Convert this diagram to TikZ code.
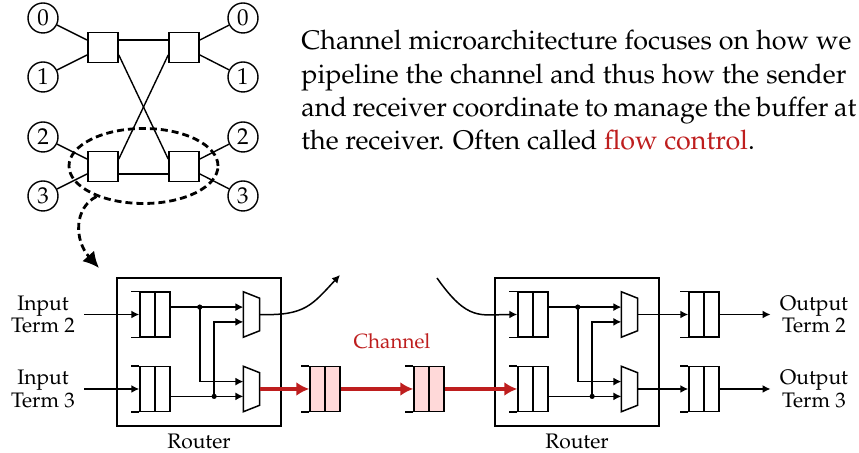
\documentclass[tikz,border=0pt]{standalone}
\usepackage[T1]{fontenc}
\usepackage{mathpazo}
\usepackage{tikz}
\usetikzlibrary{arrows.meta,positioning,shapes.geometric}
\definecolor{chanred}{RGB}{190,30,30}
\definecolor{chanpink}{RGB}{255,217,217}
\tikzset{
	wire/.style={line width=0.75pt,-{Latex[length=4pt,width=4pt]}},
	link/.style={line width=0.7pt},
	redwire/.style={line width=1.6pt,chanred,-{Latex[length=6.5pt,width=7pt]}},
	term/.style={circle,draw,line width=0.7pt,inner sep=0pt,minimum size=15pt,font=\fontsize{11.5}{11.5}\selectfont},
	switchbox/.style={rectangle,draw,line width=0.75pt,inner sep=0pt,minimum size=15pt},
	fifo/.style={rectangle,draw,line width=0.75pt,inner sep=0pt,minimum width=15pt,minimum height=22.3pt},
	muxbox/.style={rectangle,inner sep=0pt,minimum width=7.7pt,minimum height=22.3pt},
	routerbox/.style={rectangle,draw,line width=0.75pt,inner sep=0pt,minimum width=82pt,minimum height=74pt},
	smalltext/.style={font=\fontsize{10.5}{11.3}\selectfont,align=center,inner sep=4.5pt},
	dot/.style={circle,fill,inner sep=0pt,minimum size=2.6pt}
}
\begin{document}
\begin{tikzpicture}[x=0.5pt,y=-0.5pt]
	\useasboundingbox (0,0) rectangle (859,453);
	% network
	\node[term] (l0) at (43,18) {0};
	\node[term] (l1) at (43,77) {1};
	\node[term] (l2) at (43,137) {2};
	\node[term] (l3) at (43,196) {3};
	\node[term] (r0) at (243,18) {0};
	\node[term] (r1) at (243,77) {1};
	\node[term] (r2) at (243,137) {2};
	\node[term] (r3) at (243,196) {3};
	\node[switchbox] (sa) at (103,47.5) {};
	\node[switchbox] (sb) at (184,47.5) {};
	\node[switchbox] (sc) at (103,166.5) {};
	\node[switchbox] (sd) at (184,166.5) {};
	\draw[link] (l0) -- ([yshift=3.7pt]sa.west);
	\draw[link] (l1) -- ([yshift=-3.7pt]sa.west);
	\draw[link] (l2) -- ([yshift=3.7pt]sc.west);
	\draw[link] (l3) -- ([yshift=-3.7pt]sc.west);
	\draw[link] (r0) -- ([yshift=3.7pt]sb.east);
	\draw[link] (r1) -- ([yshift=-3.7pt]sb.east);
	\draw[link] (r2) -- ([yshift=3.7pt]sd.east);
	\draw[link] (r3) -- ([yshift=-3.7pt]sd.east);
	\draw[link] ([yshift=3.7pt]sa.east) -- ([yshift=3.7pt]sb.west);
	\draw[link] ([yshift=-3.7pt]sc.east) -- ([yshift=-3.7pt]sd.west);
	\draw[link] ([yshift=-3.7pt]sa.east) -- ([yshift=3.7pt]sd.west);
	\draw[link] ([yshift=3.7pt]sc.east) -- ([yshift=-3.7pt]sb.west);
	% zoom ellipse
	\node[ellipse,draw,line width=1.4pt,dash pattern=on 3.5pt off 2pt,inner sep=0pt,minimum width=74.5pt,minimum height=37.5pt] (zoomring) at (143.5,166) {};
	\node[anchor=north west,inner sep=0pt,font=\fontsize{13.45}{16.6}\selectfont,align=left] (blurb) at (301,30) {\makebox[275pt][s]{Channel microarchitecture focuses on how we}\\\makebox[272.5pt][s]{pipeline the channel and thus how the sender}\\\makebox[277.5pt][s]{and receiver coordinate to manage the buffer at}\\the receiver. Often called \textcolor{chanred}{flow control}.};
	% routers
	\node[routerbox] (ra) at (199,352) {};
	\node[routerbox] (rb) at (577,352) {};
	\node[smalltext,below=-1pt of ra] (ralabel) {Router};
	\node[smalltext,below=-1pt of rb] (rblabel) {Router};
	\node[smalltext] (ina) at (43,314.5) {Input\\Term 2};
	\node[smalltext] (inb) at (43,389) {Input\\Term 3};
	\node[smalltext] (outa) at (814,314.5) {Output\\Term 2};
	\node[smalltext] (outb) at (814,389) {Output\\Term 3};
	\node[fifo] (ba) at (155,314.5) {};
	\node[fifo] (bb) at (155,389) {};
	\node[fifo] (bc) at (533,314.5) {};
	\node[fifo] (bd) at (533,389) {};
	\node[fifo] (be) at (704,314.5) {};
	\node[fifo] (bf) at (704,389) {};
	\node[fifo,fill=chanpink] (cha) at (325,389) {};
	\node[fifo,fill=chanpink] (chb) at (429,389) {};
	\foreach \b in {ba,bb,bc,bd,be,bf,cha,chb} {
		\draw[line width=0.75pt] (\b.north) -- (\b.south);
		\draw[line width=0.75pt] (\b.north west) -- ++(-8,0);
		\draw[line width=0.75pt] (\b.south west) -- ++(-8,0);
	}
	\node[muxbox] (ma) at (251.5,314.5) {};
	\node[muxbox] (mb) at (251.5,389) {};
	\node[muxbox] (mc) at (629.5,314.5) {};
	\node[muxbox] (md) at (629.5,389) {};
	\foreach \m in {ma,mb,mc,md} {
		\draw[line width=0.75pt] (\m.north west) -- ([yshift=-3.2pt]\m.north east) -- ([yshift=3.2pt]\m.south east) -- (\m.south west) -- cycle;
	}
	% inside of each router
	\foreach \ti/\bi/\tm/\bm in {ba/bb/ma/mb,bc/bd/mc/md} {
		\node[dot] (\ti j) at ([xshift=14.5pt,yshift=3.7pt]\ti.east) {};
		\node[dot] (\bi j) at ([xshift=21.7pt,yshift=-3.7pt]\bi.east) {};
		\draw[wire] ([yshift=3.7pt]\ti.east) -- ([yshift=3.7pt]\tm.west);
		\draw[wire] ([yshift=-3.7pt]\bi.east) -- ([yshift=-3.7pt]\bm.west);
		\draw[wire] (\ti j.center) |- ([yshift=3.7pt]\bm.west);
		\draw[wire] (\bi j.center) |- ([yshift=-3.7pt]\tm.west);
	}
	\draw[wire] (ina) -- (ba.west);
	\draw[wire] (inb) -- (bb.west);
	\draw[wire] (mc.east) -- (be.west);
	\draw[wire] (md.east) -- (bf.west);
	\draw[wire] (be.east) -- (outa);
	\draw[wire] (bf.east) -- (outb);
	\coordinate (outstub) at (340,275);
	\coordinate (instub) at (437,278);
	\draw[wire] (ma.east) .. controls (305,316) and (312,305) .. (outstub);
	\draw[wire] (instub) .. controls (468,322) and (480,314.5) .. (bc.west);
	\draw[redwire] (mb.east) -- (cha.west);
	\draw[redwire] (cha.east) -- (chb.west);
	\draw[redwire] (chb.east) -- (bd.west);
	\node[font=\fontsize{10.3}{11}\selectfont,text=chanred,inner sep=0pt] (chlabel) at (392,341) {Channel};
	\draw[line width=1.4pt,dash pattern=on 3.5pt off 2pt,-{Latex[length=8pt,width=8pt]}] (zoomring.213) .. controls (74,208) and (74,240) .. (99,268);
\end{tikzpicture}
\end{document}
